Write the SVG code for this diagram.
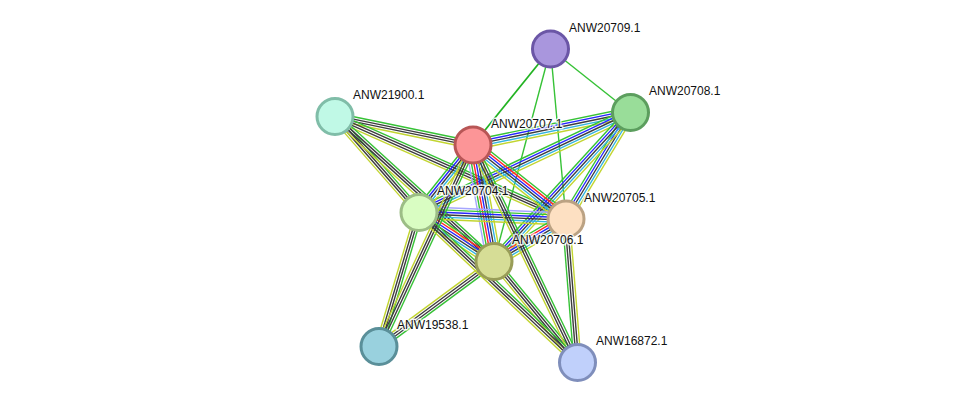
<svg xmlns="http://www.w3.org/2000/svg" width="975" height="408" viewBox="0 0 975 408">
<style>
line{stroke-width:1.4;fill:none}
.g{stroke:#36c236}.k{stroke:#3d3d3d}.y{stroke:#c2d530}.b{stroke:#2626ff}.r{stroke:#ff2626}.c{stroke:#33b4e0}.l{stroke:#a6a6ff}
.node circle{stroke-width:3}
text{font-family:"Liberation Sans",Arial,sans-serif;font-size:12px;fill:#111;stroke:#fff;stroke-width:3;stroke-opacity:0.8;paint-order:stroke;stroke-linejoin:round}
</style>
<rect width="975" height="408" fill="#fff"/>
<g id="edges">
<g transform="translate(550.5,49) rotate(128.9)"><line class="g" x2="123.4" style="stroke:#22b322;stroke-width:1.7"/></g>
<g transform="translate(550.5,49) rotate(38.44)"><line class="g" x2="102.1"/></g>
<g transform="translate(550.5,49) rotate(104.89)"><line class="g" x2="219.9"/></g>
<g transform="translate(550.5,49) rotate(84.79)"><line class="g" x2="170.7"/></g>
<g transform="translate(335,116.5) rotate(11.67)"><line class="g" x2="140.9" y1="-3.6" y2="-3.6"/><line class="k" x2="140.9" y1="-1.2" y2="-1.2"/><line class="k" x2="140.9" y1="1.2" y2="1.2"/><line class="y" x2="140.9" y1="3.6" y2="3.6"/></g>
<g transform="translate(335,116.5) rotate(23.93)"><line class="g" x2="252.7" y1="-3.6" y2="-3.6"/><line class="k" x2="252.7" y1="-1.2" y2="-1.2"/><line class="k" x2="252.7" y1="1.2" y2="1.2"/><line class="y" x2="252.7" y1="3.6" y2="3.6"/></g>
<g transform="translate(335,116.5) rotate(48.81)"><line class="g" x2="127.6" y1="-3.6" y2="-3.6"/><line class="k" x2="127.6" y1="-1.2" y2="-1.2"/><line class="k" x2="127.6" y1="1.2" y2="1.2"/><line class="y" x2="127.6" y1="3.6" y2="3.6"/></g>
<g transform="translate(335,116.5) rotate(42.36)"><line class="g" x2="215.2" y1="-3.6" y2="-3.6"/><line class="k" x2="215.2" y1="-1.2" y2="-1.2"/><line class="k" x2="215.2" y1="1.2" y2="1.2"/><line class="y" x2="215.2" y1="3.6" y2="3.6"/></g>
<g transform="translate(630.5,112.5) rotate(168.34)"><line class="g" x2="160.8" y1="4.8" y2="4.8"/><line class="b" x2="160.8" y1="2.4" y2="2.4"/><line class="k" x2="160.8"/><line class="c" x2="160.8" y1="-2.4" y2="-2.4"/><line class="y" x2="160.8" y1="-4.8" y2="-4.8"/></g>
<g transform="translate(630.5,112.5) rotate(154.69)"><line class="g" x2="233.9" y1="4.8" y2="4.8"/><line class="b" x2="233.9" y1="2.4" y2="2.4"/><line class="k" x2="233.9"/><line class="c" x2="233.9" y1="-2.4" y2="-2.4"/><line class="y" x2="233.9" y1="-4.8" y2="-4.8"/></g>
<g transform="translate(630.5,112.5) rotate(121.2)"><line class="g" x2="124.5" y1="4.8" y2="4.8"/><line class="b" x2="124.5" y1="2.4" y2="2.4"/><line class="k" x2="124.5"/><line class="c" x2="124.5" y1="-2.4" y2="-2.4"/><line class="y" x2="124.5" y1="-4.8" y2="-4.8"/></g>
<g transform="translate(630.5,112.5) rotate(132.49)"><line class="g" x2="202.1" y1="4.8" y2="4.8"/><line class="b" x2="202.1" y1="2.4" y2="2.4"/><line class="k" x2="202.1"/><line class="c" x2="202.1" y1="-2.4" y2="-2.4"/><line class="y" x2="202.1" y1="-4.8" y2="-4.8"/></g>
<g transform="translate(473,145) rotate(128.66)"><line class="g" x2="86.4" y1="4.8" y2="4.8"/><line class="b" x2="86.4" y1="2.4" y2="2.4"/><line class="k" x2="86.4"/><line class="c" x2="86.4" y1="-2.4" y2="-2.4"/><line class="y" x2="86.4" y1="-4.8" y2="-4.8"/></g>
<g transform="translate(473,145) rotate(38.51)"><line class="g" x2="118.8" y1="-6" y2="-6"/><line class="r" x2="118.8" y1="-3.6" y2="-3.6"/><line class="b" x2="118.8" y1="-1.2" y2="-1.2"/><line class="k" x2="118.8" y1="1.2" y2="1.2"/><line class="c" x2="118.8" y1="3.6" y2="3.6"/><line class="y" x2="118.8" y1="6" y2="6"/></g>
<g transform="translate(473,145) rotate(79.78)"><line class="l" x2="118.4" y1="7.2" y2="7.2"/><line class="g" x2="118.4" y1="4.8" y2="4.8"/><line class="r" x2="118.4" y1="2.4" y2="2.4"/><line class="b" x2="118.4"/><line class="k" x2="118.4" y1="-2.4" y2="-2.4"/><line class="c" x2="118.4" y1="-4.8" y2="-4.8"/><line class="y" x2="118.4" y1="-7.2" y2="-7.2"/></g>
<g transform="translate(419,212.5) rotate(2.53)"><line class="l" x2="147.1" y1="-6" y2="-6"/><line class="g" x2="147.1" y1="-3.6" y2="-3.6"/><line class="b" x2="147.1" y1="-1.2" y2="-1.2"/><line class="k" x2="147.1" y1="1.2" y2="1.2"/><line class="c" x2="147.1" y1="3.6" y2="3.6"/><line class="y" x2="147.1" y1="6" y2="6"/></g>
<g transform="translate(419,212.5) rotate(33.16)"><line class="g" x2="89.6" y1="-6" y2="-6"/><line class="r" x2="89.6" y1="-3.6" y2="-3.6"/><line class="b" x2="89.6" y1="-1.2" y2="-1.2"/><line class="k" x2="89.6" y1="1.2" y2="1.2"/><line class="c" x2="89.6" y1="3.6" y2="3.6"/><line class="y" x2="89.6" y1="6" y2="6"/></g>
<g transform="translate(566,219) rotate(149.45)"><line class="g" x2="83.6" y1="6" y2="6"/><line class="r" x2="83.6" y1="3.6" y2="3.6"/><line class="b" x2="83.6" y1="1.2" y2="1.2"/><line class="k" x2="83.6" y1="-1.2" y2="-1.2"/><line class="c" x2="83.6" y1="-3.6" y2="-3.6"/><line class="y" x2="83.6" y1="-6" y2="-6"/></g>
<g transform="translate(419,212.5) rotate(106.62)"><line class="g" x2="139.8" y1="-3.6" y2="-3.6"/><line class="k" x2="139.8" y1="-1.2" y2="-1.2"/><line class="k" x2="139.8" y1="1.2" y2="1.2"/><line class="y" x2="139.8" y1="3.6" y2="3.6"/></g>
<g transform="translate(473,145) rotate(115.01)"><line class="g" x2="222.3" y1="-3.6" y2="-3.6"/><line class="k" x2="222.3" y1="-1.2" y2="-1.2"/><line class="k" x2="222.3" y1="1.2" y2="1.2"/><line class="y" x2="222.3" y1="3.6" y2="3.6"/></g>
<g transform="translate(494,261.5) rotate(143.53)"><line class="g" x2="143" y1="-3.6" y2="-3.6"/><line class="k" x2="143" y1="-1.2" y2="-1.2"/><line class="k" x2="143" y1="1.2" y2="1.2"/><line class="y" x2="143" y1="3.6" y2="3.6"/></g>
<g transform="translate(566,219) rotate(85.42)"><line class="g" x2="144" y1="3.6" y2="3.6"/><line class="k" x2="144" y1="1.2" y2="1.2"/><line class="k" x2="144" y1="-1.2" y2="-1.2"/><line class="y" x2="144" y1="-3.6" y2="-3.6"/></g>
<g transform="translate(494,261.5) rotate(50.43)"><line class="g" x2="131" y1="-3.6" y2="-3.6"/><line class="k" x2="131" y1="-1.2" y2="-1.2"/><line class="k" x2="131" y1="1.2" y2="1.2"/><line class="y" x2="131" y1="3.6" y2="3.6"/></g>
<g transform="translate(473,145) rotate(64.34)"><line class="g" x2="241.3" y1="-3.6" y2="-3.6"/><line class="k" x2="241.3" y1="-1.2" y2="-1.2"/><line class="k" x2="241.3" y1="1.2" y2="1.2"/><line class="y" x2="241.3" y1="3.6" y2="3.6"/></g>
<g transform="translate(419,212.5) rotate(43.42)"><line class="g" x2="218.2" y1="-3.6" y2="-3.6"/><line class="k" x2="218.2" y1="-1.2" y2="-1.2"/><line class="k" x2="218.2" y1="1.2" y2="1.2"/><line class="y" x2="218.2" y1="3.6" y2="3.6"/></g>
</g>
<g id="n-ANW20709.1" class="node"><circle cx="550.5" cy="49" r="18" fill="#a996dd" stroke="#6b56a6"/></g>
<g id="n-ANW20708.1" class="node"><circle cx="630.5" cy="112.5" r="18" fill="#99dd99" stroke="#5c9e5e"/></g>
<g id="n-ANW21900.1" class="node"><circle cx="335" cy="116.5" r="18" fill="#c0f9e6" stroke="#80bda8"/></g>
<g id="n-ANW20707.1" class="node"><circle cx="473" cy="145" r="18" fill="#fc9597" stroke="#b85656"/></g>
<g id="n-ANW20704.1" class="node"><circle cx="419" cy="212.5" r="18" fill="#d9fdc2" stroke="#9cbd86"/></g>
<g id="n-ANW20705.1" class="node"><circle cx="566" cy="219" r="18" fill="#fde0c2" stroke="#bba283"/></g>
<g id="n-ANW20706.1" class="node"><circle cx="494" cy="261.5" r="18" fill="#d6dd96" stroke="#999d58"/></g>
<g id="n-ANW19538.1" class="node"><circle cx="379" cy="346.5" r="18" fill="#99d1de" stroke="#5a8f99"/></g>
<g id="n-ANW16872.1" class="node"><circle cx="577.5" cy="362.5" r="18" fill="#c0d0fb" stroke="#7f8ebb"/></g>
<g id="labels">
<text x="569" y="32">ANW20709.1</text>
<text x="649" y="95">ANW20708.1</text>
<text x="353" y="99">ANW21900.1</text>
<text x="491" y="128">ANW20707.1</text>
<text x="437" y="195">ANW20704.1</text>
<text x="584" y="202">ANW20705.1</text>
<text x="512" y="244">ANW20706.1</text>
<text x="397" y="329">ANW19538.1</text>
<text x="596" y="345">ANW16872.1</text>
</g>
</svg>
